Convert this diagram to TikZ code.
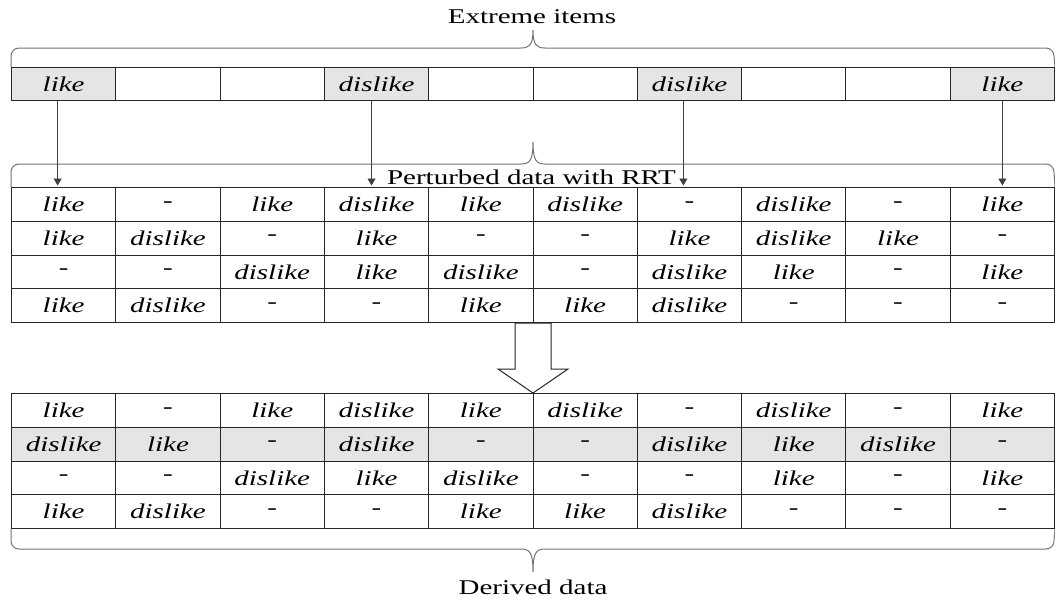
\documentclass[tikz,border=0pt]{standalone}
\usepackage{fontspec}
\setmainfont{Liberation Serif}
\usetikzlibrary{arrows.meta, positioning}
\newcommand{\wide}[1]{\scalebox{1.38}[1]{#1}}
\tikzstyle{cell}=[rectangle, draw=black!85, line width=1pt, fill=white, minimum width=104.3pt, minimum height=33.75pt, inner sep=0pt, anchor=north west, font=\fontsize{21}{24}\selectfont\itshape]
\tikzstyle{picked}=[cell, fill=black!10]
\tikzstyle{caption}=[anchor=base, font=\fontsize{21}{24}\selectfont]
\tikzstyle{brace}=[draw=black!55, line width=1pt]
\tikzstyle{pick}=[draw=black!75, line width=0.8pt, -{Triangle[width=8pt,length=7pt]}, shorten >=1.5pt]

\begin{document}
\begin{tikzpicture}[x=1pt, y=-1pt]
\useasboundingbox (0,0) rectangle (1055,603);

% extreme items
\foreach \v/\s [count=\c] in {like/picked, /cell, /cell, dislike/picked, /cell, /cell, dislike/picked, /cell, /cell, like/picked}
  \node[\s, minimum height=33pt] (e-\c) at ({11+(\c-1)*104.3}, 67) {\wide{\v}};

% perturbed data
\foreach \row [count=\r] in {{like,-,like,dislike,like,dislike,-,dislike,-,like},
                             {like,dislike,-,like,-,-,like,dislike,like,-},
                             {-,-,dislike,like,dislike,-,dislike,like,-,like},
                             {like,dislike,-,-,like,like,dislike,-,-,-}}
  \foreach \v [count=\c] in \row
    \node[cell] (p-\r-\c) at ({11+(\c-1)*104.3}, {187+(\r-1)*33.75}) {\wide{\v}};

% derived data
\foreach \row/\s [count=\r] in {{like,-,like,dislike,like,dislike,-,dislike,-,like}/cell,
                                {dislike,like,-,dislike,-,-,dislike,like,dislike,-}/picked,
                                {-,-,dislike,like,dislike,-,-,like,-,like}/cell,
                                {like,dislike,-,-,like,like,dislike,-,-,-}/cell}
  \foreach \v [count=\c] in \row
    \node[\s] (d-\r-\c) at ({11+(\c-1)*104.3}, {393+(\r-1)*33.75}) {\wide{\v}};

% braces
\draw[brace] (e-1.north west) -- (11,56) arc[start angle=180, end angle=270, radius=8]
  -- (521,48) .. controls (530,48) and (533,44) .. (533,30)
  .. controls (533,44) and (536,48) .. (545,48)
  -- (1046,48) arc[start angle=270, end angle=360, radius=8] -- (e-10.north east);
\draw[brace] (p-1-1.north west) -- (11,172) arc[start angle=180, end angle=270, radius=8]
  -- (521,164) .. controls (530,164) and (533,160) .. (533,142)
  .. controls (533,160) and (536,164) .. (545,164)
  -- (1046,164) arc[start angle=270, end angle=360, radius=8] -- (p-1-10.north east);
\draw[brace] (d-4-1.south west) -- (11,541) arc[start angle=180, end angle=90, radius=8]
  -- (521,549) .. controls (530,549) and (533,553) .. (533,572)
  .. controls (533,553) and (536,549) .. (545,549)
  -- (1046,549) arc[start angle=90, end angle=0, radius=8] -- (d-4-10.south east);

\node[caption] (top) at (532,23.5) {\wide{Extreme items}};
\node[caption] (mid) at (531.5,184) {\wide{Perturbed data with RRT}};
\node[caption] (bot) at (533,594) {\wide{Derived data}};

% picked items go down
\foreach \c/\dx in {1/-6, 4/-5, 7/-6, 10/0}
  \draw[pick] ([xshift=\dx pt]e-\c.south) -- ([xshift=\dx pt]e-\c.south |- p-1-\c.north);

% hollow arrow
\draw[line width=1pt, draw=black!85, fill=white] (515,323) -- (515,369) -- (498,369)
  -- (533,393) -- (568,369) -- (551,369) -- (551,323) -- cycle;
\end{tikzpicture}
\end{document}
